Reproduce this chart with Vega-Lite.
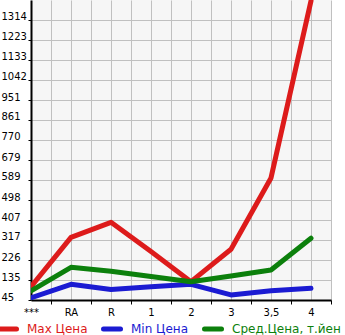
{
  "$schema": "https://vega.github.io/schema/vega-lite/v6.json",
  "width": 300,
  "height": 300,
  "autosize": {"type": "none"},
  "padding": {"left": 31, "top": 0, "right": 14, "bottom": 35},
  "background": "white",
  "config": {
    "view": {"fill": "#f6f6f6", "stroke": null},
    "font": "DejaVu Sans"
  },
  "data": {
    "values": [
      {"cat": "***", "i": 0, "series": "Max Цена", "value": 105},
      {"cat": "RA", "i": 1, "series": "Max Цена", "value": 329},
      {"cat": "R", "i": 2, "series": "Max Цена", "value": 397},
      {"cat": "1", "i": 3, "series": "Max Цена", "value": 265},
      {"cat": "2", "i": 4, "series": "Max Цена", "value": 128},
      {"cat": "3", "i": 5, "series": "Max Цена", "value": 275},
      {"cat": "3,5", "i": 6, "series": "Max Цена", "value": 598},
      {"cat": "4", "i": 7, "series": "Max Цена", "value": 1400},
      {"cat": "***", "i": 0, "series": "Min Цена", "value": 55},
      {"cat": "RA", "i": 1, "series": "Min Цена", "value": 116},
      {"cat": "R", "i": 2, "series": "Min Цена", "value": 93},
      {"cat": "1", "i": 3, "series": "Min Цена", "value": 105},
      {"cat": "2", "i": 4, "series": "Min Цена", "value": 116},
      {"cat": "3", "i": 5, "series": "Min Цена", "value": 68},
      {"cat": "3,5", "i": 6, "series": "Min Цена", "value": 87},
      {"cat": "4", "i": 7, "series": "Min Цена", "value": 98},
      {"cat": "***", "i": 0, "series": "Сред.Цена, т.йен", "value": 86},
      {"cat": "RA", "i": 1, "series": "Сред.Цена, т.йен", "value": 193},
      {"cat": "R", "i": 2, "series": "Сред.Цена, т.йен", "value": 175},
      {"cat": "1", "i": 3, "series": "Сред.Цена, т.йен", "value": 151},
      {"cat": "2", "i": 4, "series": "Сред.Цена, т.йен", "value": 128},
      {"cat": "3", "i": 5, "series": "Сред.Цена, т.йен", "value": 154},
      {"cat": "3,5", "i": 6, "series": "Сред.Цена, т.йен", "value": 181},
      {"cat": "4", "i": 7, "series": "Сред.Цена, т.йен", "value": 325}
    ]
  },
  "mark": {"type": "line", "strokeWidth": 5, "strokeCap": "round", "strokeJoin": "round", "clip": true},
  "encoding": {
    "x": {
      "field": "i",
      "type": "quantitative",
      "scale": {"domain": [0, 7.5], "nice": false, "zero": false},
      "axis": {
        "title": null,
        "values": [0, 0.5, 1, 1.5, 2, 2.5, 3, 3.5, 4, 4.5, 5, 5.5, 6, 6.5, 7, 7.5],
        "labelExpr": "datum.value % 1 == 0 ? ['***','RA','R','1','2','3','3,5','4'][datum.value] : ''",
        "labelFontSize": 10,
        "labelColor": "black",
        "labelPadding": 3,
        "labelFlush": false,
        "labelOverlap": false,
        "grid": true,
        "gridColor": "#c0c0c0",
        "gridWidth": 1,
        "domainColor": "black",
        "domainWidth": 2,
        "tickColor": "black",
        "tickSize": 4,
        "tickOpacity": {"condition": {"test": "datum.value % 1 != 0", "value": 1}, "value": 0}
      }
    },
    "y": {
      "field": "value",
      "type": "quantitative",
      "scale": {"domain": [45, 1404], "nice": false, "zero": false},
      "axis": {
        "title": null,
        "format": "d",
        "values": [45, 135, 226, 317, 407, 498, 589, 679, 770, 861, 951, 1042, 1133, 1223, 1314],
        "labelFontSize": 10,
        "labelColor": "black",
        "labelAlign": "left",
        "labelBaseline": "alphabetic",
        "labelPadding": 27,
        "grid": true,
        "gridColor": "#c0c0c0",
        "gridWidth": 1,
        "domainColor": "black",
        "domainWidth": 2,
        "tickColor": "black",
        "tickSize": 3
      }
    },
    "color": {
      "field": "series",
      "type": "nominal",
      "scale": {
        "domain": ["Max Цена", "Min Цена", "Сред.Цена, т.йен"],
        "range": ["#dd1b1b", "#1b1bd2", "#0c800c"]
      },
      "legend": {
        "title": null,
        "orient": "none",
        "direction": "horizontal",
        "legendX": -34,
        "legendY": 318,
        "symbolType": "stroke",
        "symbolStrokeWidth": 5,
        "symbolSize": 289,
        "labelFontSize": 12,
        "labelOffset": 8,
        "columnPadding": 5,
        "labelLimit": 200,
        "encode": {
          "labels": {"update": {"fill": {"scale": "color", "field": "value"}}},
          "symbols": {"update": {"strokeCap": {"value": "round"}}}
        }
      }
    }
  }
}
